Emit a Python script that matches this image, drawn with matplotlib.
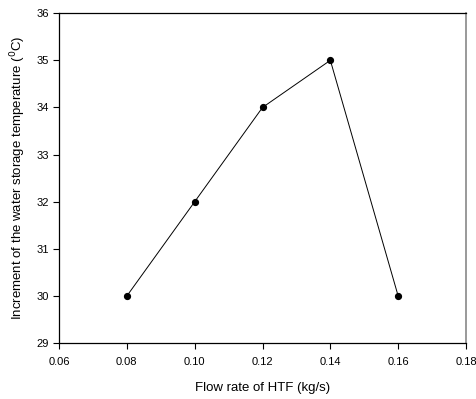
import matplotlib
matplotlib.use('Agg')
import matplotlib.pyplot as plt

plt.rcParams['font.family'] = ['Liberation Sans', 'DejaVu Sans']

flow_rate = [0.08, 0.10, 0.12, 0.14, 0.16]
temp_increment = [30, 32, 34, 35, 30]
x_ticks = [0.06, 0.08, 0.10, 0.12, 0.14, 0.16, 0.18]
y_ticks = [29, 30, 31, 32, 33, 34, 35, 36]

fig = plt.figure(figsize=(4.76, 3.99), dpi=100)
ax = fig.add_axes([0.124, 0.140, 0.855, 0.827])

ax.plot(flow_rate, temp_increment, color='black', linewidth=0.7,
        marker='o', markersize=4.2, markerfacecolor='black')

ax.set_xlim(0.06, 0.18)
ax.set_ylim(29, 36)
ax.set_xticks(x_ticks)
ax.set_xticklabels(['%.2f' % t for t in x_ticks])
ax.set_yticks(y_ticks)
ax.tick_params(direction='out', length=4, width=0.8, labelsize=8)
ax.tick_params(axis='x', pad=6)
ax.tick_params(axis='y', pad=3)

for s in ['left', 'bottom', 'top']:
    ax.spines[s].set_linewidth(0.9)
ax.spines['right'].set_color('#888888')
ax.spines['right'].set_linewidth(1.2)

ax.set_xlabel('Flow rate of HTF (kg/s)', fontsize=9.5, labelpad=11)
ax.set_ylabel('Increment of the water storage temperature ($^{0}$C)', fontsize=9.5, labelpad=6)

fig.savefig('out.png', dpi=100)
